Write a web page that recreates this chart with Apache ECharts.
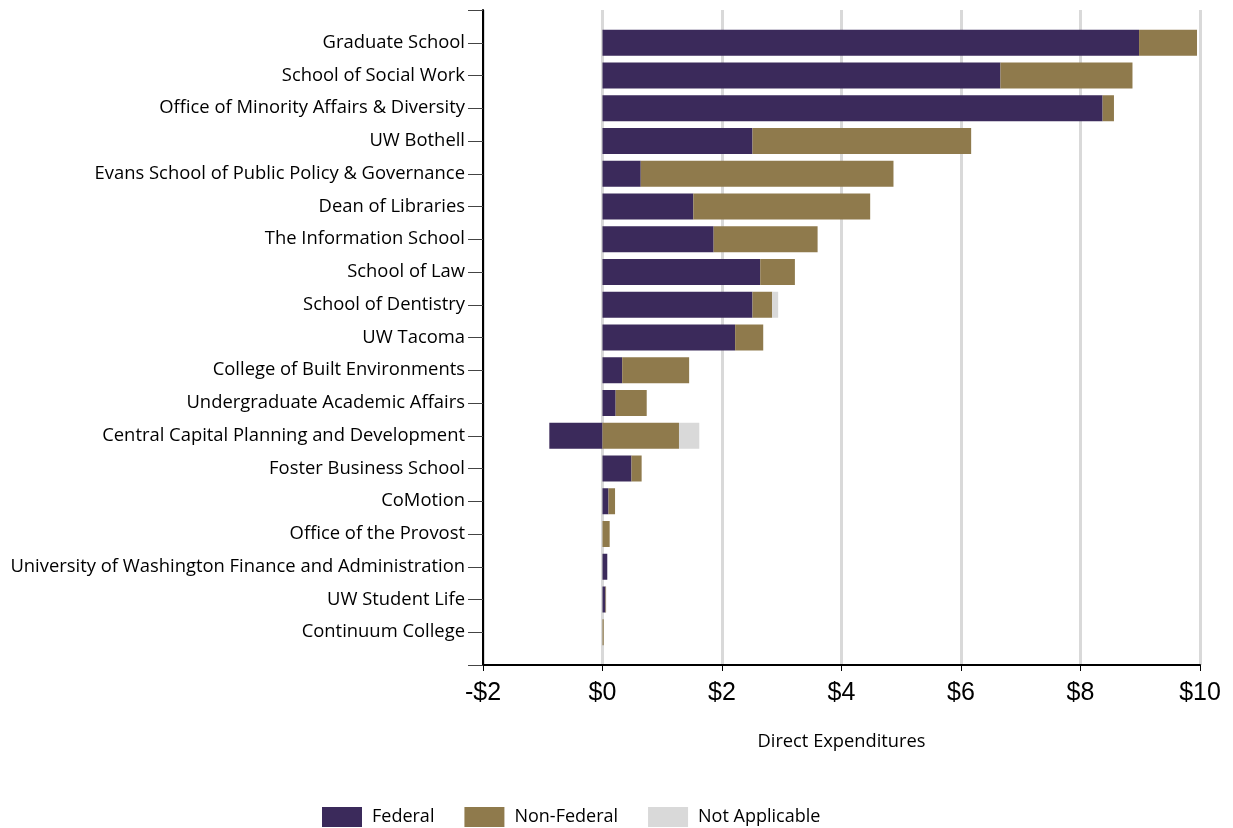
<!DOCTYPE html>
<html><head><meta charset="utf-8">
<script src="https://cdn.jsdelivr.net/npm/echarts@6/dist/echarts.min.js"></script>
<style>html,body{margin:0;padding:0;background:#fff}#c{width:1233px;height:828px}</style>
</head><body><div id="c"></div>
<script>
const categories = [
  "Graduate School",
  "School of Social Work",
  "Office of Minority Affairs & Diversity",
  "UW Bothell",
  "Evans School of Public Policy & Governance",
  "Dean of Libraries",
  "The Information School",
  "School of Law",
  "School of Dentistry",
  "UW Tacoma",
  "College of Built Environments",
  "Undergraduate Academic Affairs",
  "Central Capital Planning and Development",
  "Foster Business School",
  "CoMotion",
  "Office of the Provost",
  "University of Washington Finance and Administration",
  "UW Student Life",
  "Continuum College"
];
const federal =       [8.98, 6.66, 8.37, 2.51, 0.64, 1.52, 1.86, 2.64, 2.51, 2.22, 0.33, 0.22, -0.89, 0.485, 0.10, 0, 0.08, 0.05, 0];
const nonFederal =    [0.97, 2.21, 0.19, 3.66, 4.23, 2.96, 1.74, 0.58, 0.33, 0.47, 1.12, 0.52, 1.28, 0.17, 0.11, 0.12, 0, 0.01, 0.02];
const notApplicable = [0, 0, 0, 0, 0, 0, 0, 0, 0.10, 0, 0, 0, 0.34, 0, 0, 0, 0, 0, 0];
const xTicks = [-2, 0, 2, 4, 6, 8, 10];

const pad = arr => ['-'].concat(arr.map(v => v === 0 ? '-' : v)).concat(['-']);
const cats = [''].concat(categories).concat(['']);

const chart = echarts.init(document.getElementById('c'));
const labelFont = '"Open Sans", Lato, sans-serif';
chart.setOption({
  animation: false,
  grid: {left: 483, right: 33, top: 10, bottom: 163, containLabel: false},
  legend: {
    left: 317, top: 802, itemWidth: 40, itemHeight: 20, itemGap: 30,
    icon: 'rect',
    textStyle: {fontSize: 18, color: '#000', fontFamily: labelFont, padding: [0, 0, 0, 5]},
    data: ['Federal', 'Non-Federal', 'Not Applicable']
  },
  xAxis: {
    type: 'value', min: xTicks[0], max: xTicks[xTicks.length - 1], interval: 2,
    axisLine: {show: true, lineStyle: {color: '#000', width: 2}},
    axisTick: {show: true, length: 6, lineStyle: {color: '#000', width: 1}},
    splitLine: {show: true, lineStyle: {color: '#d9d9d9', width: 3}},
    axisLabel: {
      fontSize: 25, color: '#000', fontFamily: '"Liberation Sans", Arial, sans-serif', margin: 16,
      formatter: v => (v < 0 ? '-$' + (-v) : '$' + v)
    },
    name: 'Direct Expenditures', nameLocation: 'middle', nameGap: 68,
    nameTextStyle: {fontSize: 18.3, color: '#000', fontFamily: labelFont}
  },
  yAxis: {
    type: 'category', inverse: true, boundaryGap: false, data: cats,
    axisLine: {show: true, onZero: false, lineStyle: {color: '#000', width: 2}},
    axisTick: {show: true, length: 15, interval: 0, lineStyle: {color: '#444', width: 1}},
    axisLabel: {fontSize: 18.4, color: '#000', fontFamily: labelFont, margin: 18, interval: 0},
    splitLine: {show: false}
  },
  series: [
    {name: 'Federal', type: 'bar', stack: 'total', barWidth: 26, data: pad(federal),
     itemStyle: {color: '#3b2a5b'}},
    {name: 'Non-Federal', type: 'bar', stack: 'total', barWidth: 26, data: pad(nonFederal),
     itemStyle: {color: '#8f7a4c'}},
    {name: 'Not Applicable', type: 'bar', stack: 'total', barWidth: 26, data: pad(notApplicable),
     itemStyle: {color: '#d9d9d9'}}
  ]
});
</script></body></html>
